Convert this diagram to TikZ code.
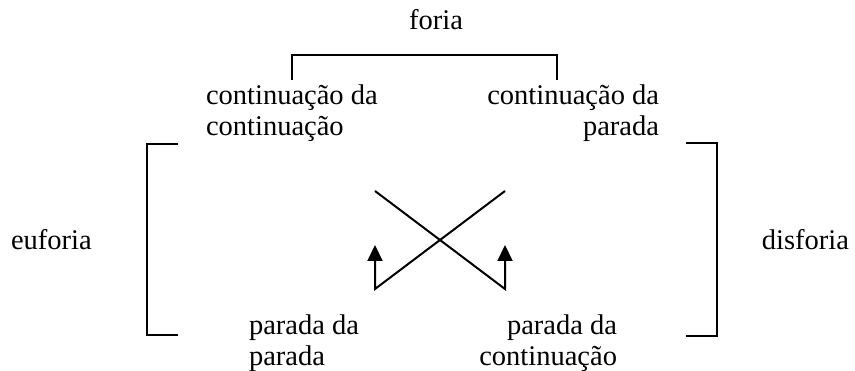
\documentclass[tikz,border=0pt]{standalone}
\usepackage{fontspec}
\setmainfont{Liberation Serif}
\usetikzlibrary{arrows.meta}

\begin{document}
\begin{tikzpicture}[x=1pt, y=-1pt, line width=2pt,
    txt/.style={inner sep=0pt, font=\fontsize{28.5}{31}\selectfont},
    up/.style={-{Triangle[length=16pt, width=15pt]}}]
                    \useasboundingbox (0,0) rectangle (855,371);

                    \node (foria) at (436, 20) [txt] {foria};
                    \node (euforia) at (10, 240) [txt, anchor=west] {euforia};
                    \node (disforia) at (850, 240) [txt, anchor=east] {disforia};
                    \node (cc) at (205, 113) [txt, anchor=west, align=left] {continuação da\\continuação};
                    \node (cp) at (660, 113) [txt, anchor=east, align=right] {continuação da\\parada};
                    \node (pp) at (248, 343) [txt, anchor=west, align=left] {parada da\\parada};
                    \node (pc) at (618, 343) [txt, anchor=east, align=right] {parada da\\continuação};

                    % brackets
                    \coordinate (t1) at (292, 80);
                    \coordinate (t2) at (557, 80);
                    \draw (t1) -- (292, 55) -- (557, 55) -- (t2);
                    \coordinate (l1) at (178, 144);
                    \coordinate (l2) at (178, 335);
                    \draw (l1) -- (147, 144) -- (147, 335) -- (l2);
                    \coordinate (r1) at (686, 143);
                    \coordinate (r2) at (686, 336);
                    \draw (r1) -- (717, 143) -- (717, 336) -- (r2);

                    % cross
                    \coordinate (a1) at (375, 191);
                    \coordinate (a2) at (505, 191);
                    \coordinate (b1) at (375, 289);
                    \coordinate (b2) at (505, 289);
                    \coordinate (h1) at (375, 245);
                    \coordinate (h2) at (505, 245);
                    \draw[up] (a2) -- (b1) -- (h1);
                    \draw[up] (a1) -- (b2) -- (h2);
                \end{tikzpicture}
\end{document}
